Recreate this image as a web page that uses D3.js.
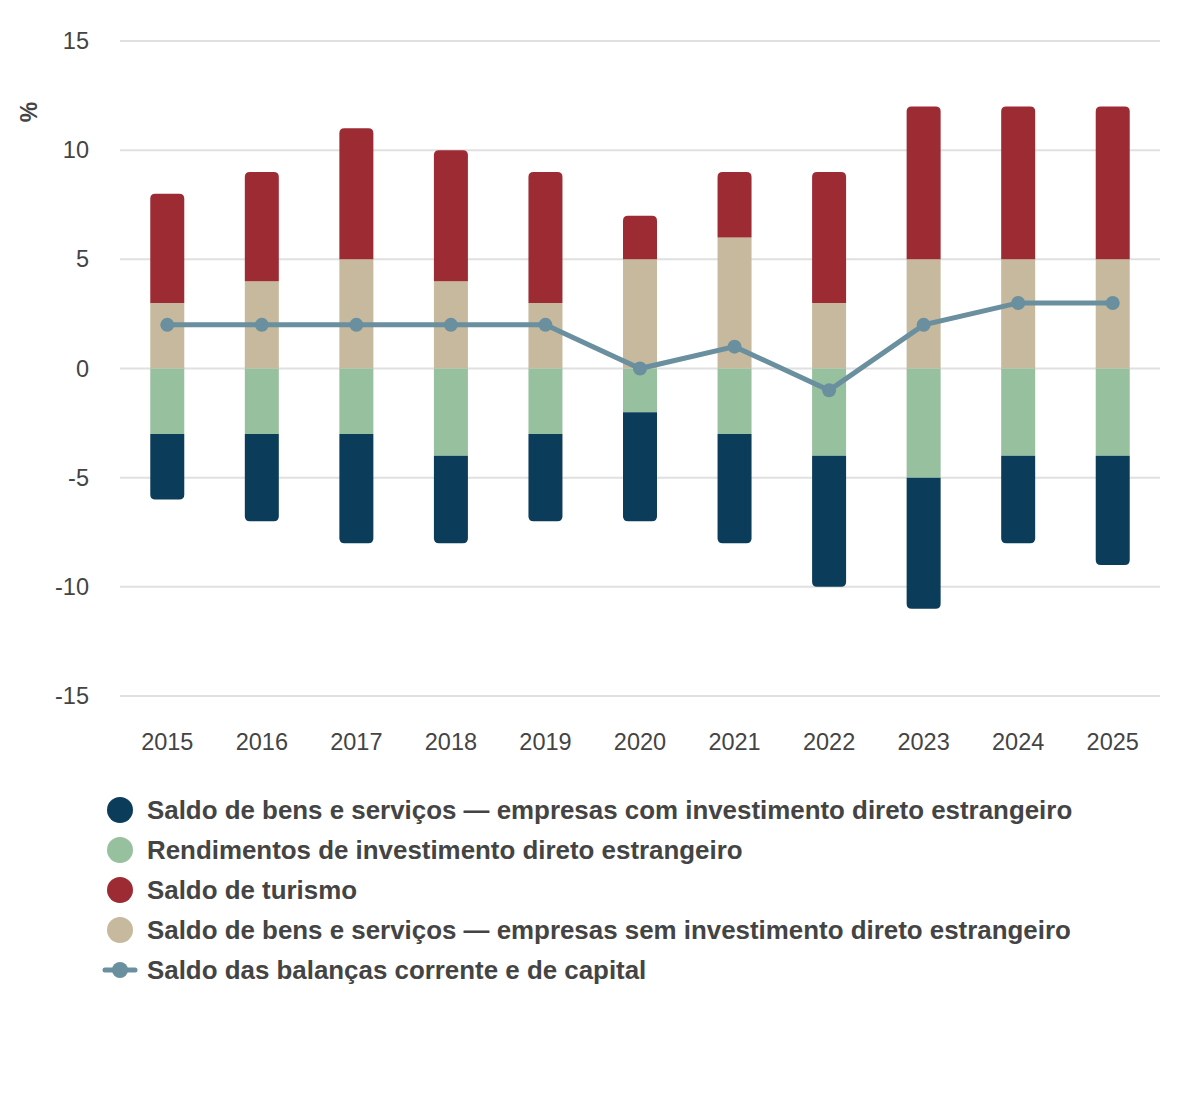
<!DOCTYPE html>
<html>
<head>
<meta charset="utf-8">
<script src="https://d3js.org/d3.v7.min.js"></script>
<style>
  body { margin: 0; background: #fff; }
  svg text { font-family: "Liberation Sans", Arial, sans-serif; }
</style>
</head>
<body>
<div id="chart"></div>
<script>
// data
var years = ["2015","2016","2017","2018","2019","2020","2021","2022","2023","2024","2025"];
var bensComIDE = [-3, -4, -5, -4, -4, -5, -5, -6, -6, -4, -5];   // dark blue (below green)
var rendimentosIDE = [-3, -3, -3, -4, -3, -2, -3, -4, -5, -4, -4]; // green
var turismo = [5, 5, 6, 6, 6, 2, 3, 6, 7, 7, 7];                   // red (above tan)
var bensSemIDE = [3, 4, 5, 4, 3, 5, 6, 3, 5, 5, 5];                // tan
var saldoTotal = [2, 2, 2, 2, 2, 0, 1, -1, 2, 3, 3];               // line
var yTicks = [15, 10, 5, 0, -5, -10, -15];

var legendItems = [
  {label: "Saldo de bens e serviços \u2014 empresas com investimento direto estrangeiro", color: "#0b3d5b", type: "dot"},
  {label: "Rendimentos de investimento direto estrangeiro", color: "#97c09f", type: "dot"},
  {label: "Saldo de turismo", color: "#9d2b34", type: "dot"},
  {label: "Saldo de bens e serviços \u2014 empresas sem investimento direto estrangeiro", color: "#c6b99d", type: "dot"},
  {label: "Saldo das balanças corrente e de capital", color: "#6a8f9f", type: "line"}
];

var W = 1200, H = 1120;
var svg = d3.select("#chart").append("svg")
  .attr("width", W).attr("height", H);

var x = d3.scaleBand().domain(years).range([120, 1160]);
var y = d3.scaleLinear().domain([-15, 15]).range([696, 41]);
var barW = 34, rad = 5;

// grid + y labels
svg.append("g").selectAll("line").data(yTicks).enter().append("line")
  .attr("x1", 120).attr("x2", 1160)
  .attr("y1", d => y(d)).attr("y2", d => y(d))
  .attr("stroke", "#e0e0e0").attr("stroke-width", 2);

svg.append("g").selectAll("text").data(yTicks).enter().append("text")
  .attr("x", 89).attr("y", d => y(d) + 8)
  .attr("text-anchor", "end")
  .attr("font-size", 23.5).attr("fill", "#444")
  .text(d => d);

svg.append("text")
  .attr("transform", "translate(37,112) rotate(-90)")
  .attr("text-anchor", "middle")
  .attr("font-size", 23).attr("font-weight", "bold").attr("fill", "#444")
  .text("%");

// x labels
svg.append("g").selectAll("text").data(years).enter().append("text")
  .attr("x", d => x(d) + x.bandwidth() / 2).attr("y", 750)
  .attr("text-anchor", "middle")
  .attr("font-size", 23.5).attr("fill", "#444")
  .text(d => d);

// segment path with optional rounded end (top or bottom)
function seg(x0, y0, y1, roundTop, roundBottom) {
  var top = Math.min(y0, y1), bot = Math.max(y0, y1), w = barW;
  var rt = roundTop ? rad : 0, rb = roundBottom ? rad : 0;
  return "M" + x0 + "," + (top + rt) +
    (rt ? " Q" + x0 + "," + top + " " + (x0 + rt) + "," + top : "") +
    " L" + (x0 + w - rt) + "," + top +
    (rt ? " Q" + (x0 + w) + "," + top + " " + (x0 + w) + "," + (top + rt) : "") +
    " L" + (x0 + w) + "," + (bot - rb) +
    (rb ? " Q" + (x0 + w) + "," + bot + " " + (x0 + w - rb) + "," + bot : "") +
    " L" + (x0 + rb) + "," + bot +
    (rb ? " Q" + x0 + "," + bot + " " + x0 + "," + (bot - rb) : "") + " Z";
}

var bars = svg.append("g");
years.forEach(function(yr, i) {
  var x0 = x(yr) + (x.bandwidth() - barW) / 2;
  var tan = bensSemIDE[i], red = turismo[i], grn = rendimentosIDE[i], blu = bensComIDE[i];
  bars.append("path").attr("d", seg(x0, y(0), y(tan), false, false)).attr("fill", legendItems[3].color);
  bars.append("path").attr("d", seg(x0, y(tan), y(tan + red), true, false)).attr("fill", legendItems[2].color);
  bars.append("path").attr("d", seg(x0, y(0), y(grn), false, false)).attr("fill", legendItems[1].color);
  bars.append("path").attr("d", seg(x0, y(grn), y(grn + blu), false, true)).attr("fill", legendItems[0].color);
});

// line
var line = d3.line()
  .x((d, i) => x(years[i]) + x.bandwidth() / 2)
  .y(d => y(d));
svg.append("path").datum(saldoTotal)
  .attr("d", line).attr("fill", "none")
  .attr("stroke", legendItems[4].color).attr("stroke-width", 5);
svg.append("g").selectAll("circle").data(saldoTotal).enter().append("circle")
  .attr("cx", (d, i) => x(years[i]) + x.bandwidth() / 2)
  .attr("cy", d => y(d)).attr("r", 7)
  .attr("fill", legendItems[4].color);

// legend
var lg = svg.append("g").selectAll("g").data(legendItems).enter().append("g")
  .attr("transform", (d, i) => "translate(0," + (810 + i * 40) + ")");
lg.each(function(d) {
  var g = d3.select(this);
  if (d.type === "dot") {
    g.append("circle").attr("cx", 120).attr("cy", 0).attr("r", 13).attr("fill", d.color);
  } else {
    g.append("line").attr("x1", 105).attr("x2", 135).attr("y1", 0).attr("y2", 0)
      .attr("stroke", d.color).attr("stroke-width", 5).attr("stroke-linecap", "round");
    g.append("circle").attr("cx", 120).attr("cy", 0).attr("r", 8).attr("fill", d.color);
  }
});
lg.append("text")
  .attr("x", 147).attr("y", 9)
  .attr("font-size", 25.9).attr("font-weight", "bold").attr("fill", "#444")
  .text(d => d.label);
</script>
</body>
</html>
